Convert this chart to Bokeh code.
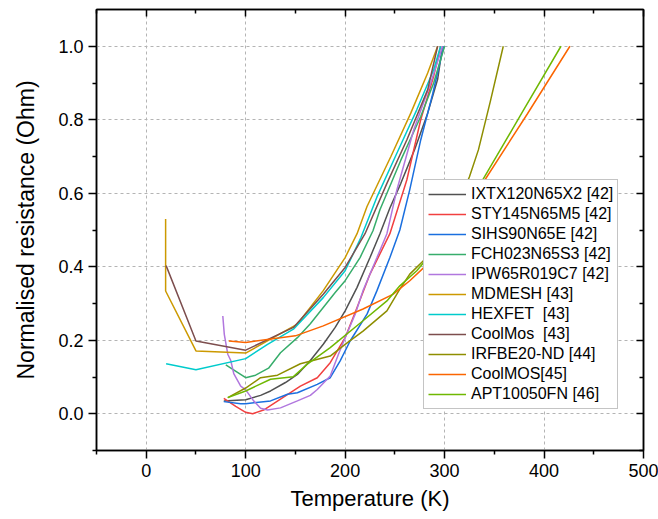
from bokeh.plotting import figure
from bokeh.models import (LinearAxis, FixedTicker, Legend, LegendItem, Range1d,
                          PrintfTickFormatter, CustomJSTickFormatter)
from bokeh.embed import file_html
from bokeh.resources import INLINE

# ---- data ----
names = ["IXTX120N65X2 [42]", "STY145N65M5 [42]", "SIHS90N65E [42]", "FCH023N65S3 [42]",
         "IPW65R019C7 [42]", "MDMESH [43]", "HEXFET  [43]", "CoolMos  [43]",
         "IRFBE20-ND [44]", "CoolMOS[45]", "APT10050FN [46]"]

ixtx_T = [78, 100, 115, 125, 140, 152, 165, 178, 190, 200, 212, 225, 235, 245, 256, 270, 283, 293, 298]
ixtx_R = [0.035, 0.038, 0.050, 0.062, 0.085, 0.107, 0.145, 0.189, 0.235, 0.28, 0.344, 0.425, 0.49, 0.56, 0.627, 0.72, 0.818, 0.91, 1.0]

sty_T = [78, 90, 100, 107, 118, 135, 155, 172, 185, 200, 212, 225, 245, 262, 276, 289, 296]
sty_R = [0.042, 0.02, 0.004, 0.0, 0.010, 0.040, 0.075, 0.098, 0.139, 0.207, 0.289, 0.38, 0.49, 0.636, 0.80, 0.918, 1.0]

sihs_T = [78, 95, 100, 125, 142, 152, 172, 185, 195, 205, 222, 232, 245, 255, 265, 276, 288, 296, 299]
sihs_R = [0.033, 0.027, 0.027, 0.035, 0.053, 0.057, 0.08, 0.098, 0.144, 0.198, 0.271, 0.335, 0.425, 0.50, 0.61, 0.745, 0.87, 0.964, 1.0]

fch_T = [80, 100, 110, 123, 135, 152, 165, 178, 190, 200, 215, 228, 235, 256, 276, 289, 300]
fch_R = [0.133, 0.098, 0.105, 0.124, 0.166, 0.207, 0.245, 0.289, 0.33, 0.362, 0.425, 0.498, 0.555, 0.69, 0.809, 0.9, 1.0]

ipw_T = [77, 78.5, 82, 85, 88, 95, 100, 108, 115, 122, 135, 152, 165, 172, 185, 193, 200, 210, 218, 232, 242, 252, 269, 286, 298]
ipw_R = [0.266, 0.216, 0.162, 0.145, 0.109, 0.075, 0.065, 0.035, 0.015, 0.01, 0.016, 0.035, 0.05, 0.066, 0.103, 0.16, 0.207, 0.27, 0.335, 0.425, 0.49, 0.609, 0.773, 0.9, 1.0]

mdmesh_T = [19.5, 19.5, 50, 100, 152, 178, 200, 212, 222, 246, 266, 283, 293]
mdmesh_R = [0.53, 0.334, 0.171, 0.165, 0.244, 0.335, 0.425, 0.49, 0.564, 0.70, 0.818, 0.927, 1.0]

hexfet_T = [20, 50, 100, 122, 148, 178, 200, 216, 232, 252, 272, 289, 296]
hexfet_R = [0.136, 0.12, 0.15, 0.189, 0.23, 0.316, 0.389, 0.48, 0.59, 0.709, 0.827, 0.936, 1.0]

coolmos43_T = [20, 50, 100, 148, 178, 200, 220, 242, 262, 283, 293]
coolmos43_R = [0.403, 0.198, 0.173, 0.235, 0.325, 0.398, 0.49, 0.627, 0.745, 0.882, 1.0]

irfbe_T = [82, 100, 115, 132, 155, 185, 200, 218, 242, 255, 265, 282, 300, 315, 325, 334, 346, 359]
irfbe_R = [0.044, 0.07, 0.098, 0.105, 0.136, 0.157, 0.189, 0.225, 0.28, 0.339, 0.38, 0.425, 0.50, 0.58, 0.645, 0.718, 0.85, 1.0]

coolmos45_T = [83, 100, 150, 178, 218, 248, 265, 282, 310, 339, 383, 426]
coolmos45_R = [0.198, 0.194, 0.212, 0.239, 0.285, 0.325, 0.362, 0.405, 0.515, 0.63, 0.815, 1.0]

apt_T = [82, 100, 125, 148, 162, 185, 218, 242, 255, 272, 282, 310, 337, 378, 417]
apt_R = [0.044, 0.062, 0.094, 0.101, 0.135, 0.18, 0.253, 0.307, 0.348, 0.389, 0.421, 0.527, 0.63, 0.82, 1.0]

series_T = [ixtx_T, sty_T, sihs_T, fch_T, ipw_T, mdmesh_T, hexfet_T, coolmos43_T, irfbe_T, coolmos45_T, apt_T]
series_R = [ixtx_R, sty_R, sihs_R, fch_R, ipw_R, mdmesh_R, hexfet_R, coolmos43_R, irfbe_R, coolmos45_R, apt_R]

colors = ["#515151", "#F14040", "#1A6FDF", "#37AD6B", "#B177DE", "#CC9900",
          "#00CBCC", "#7D4E4E", "#8E8E00", "#FB6501", "#6FB802"]

x_major = [0, 100, 200, 300, 400, 500]
x_minor = [-50, 50, 150, 250, 350, 450]
y_major = [0.0, 0.2, 0.4, 0.6, 0.8, 1.0]
y_minor = [-0.1, 0.1, 0.3, 0.5, 0.7, 0.9]

FONT = "Liberation Sans"

p = figure(width=658, height=519, x_range=Range1d(-50, 500), y_range=Range1d(-0.1, 1.1),
           output_backend="svg", toolbar_location=None,
           min_border_left=96, min_border_right=15, min_border_top=9, min_border_bottom=69)
p.background_fill_color = "white"
p.border_fill_color = "white"
p.outline_line_color = "black"
p.outline_line_width = 1.5

xt = FixedTicker(ticks=x_major, minor_ticks=x_minor)
yt = FixedTicker(ticks=y_major, minor_ticks=y_minor)

p.xaxis.ticker = xt
p.yaxis.ticker = yt
p.yaxis.formatter = PrintfTickFormatter(format="%.1f")

for ax in (p.xaxis[0], p.yaxis[0]):
    ax.major_tick_out = 8
    ax.major_tick_in = 0
    ax.minor_tick_out = 4
    ax.minor_tick_in = 0
    ax.axis_line_width = 1.5
    ax.major_tick_line_width = 1.5
    ax.minor_tick_line_width = 1.5
    ax.axis_line_color = "black"
    ax.major_tick_line_color = "black"
    ax.minor_tick_line_color = "black"
    ax.major_label_text_font = FONT
    ax.major_label_text_font_size = "18px"
    ax.major_label_text_color = "black"
    ax.major_label_standoff = 5
    ax.axis_label_text_font = FONT
    ax.axis_label_text_font_style = "normal"
    ax.axis_label_text_color = "black"

p.xaxis.axis_label = "Temperature (K)"
p.xaxis.axis_label_text_font_size = "22px"
p.xaxis.axis_label_standoff = 6
p.yaxis.axis_label = "Normalised resistance (Ohm)"
p.yaxis.axis_label_text_font_size = "23px"
p.yaxis.axis_label_standoff = 16

blank = CustomJSTickFormatter(code="return ''")
top = LinearAxis(ticker=xt, formatter=blank, major_tick_in=7, major_tick_out=0,
                 minor_tick_in=4, minor_tick_out=0, major_label_standoff=0,
                 axis_line_width=1.5, major_tick_line_width=1.5, minor_tick_line_width=1.5)
right = LinearAxis(ticker=yt, formatter=blank, major_tick_in=7, major_tick_out=0,
                   minor_tick_in=4, minor_tick_out=0, major_label_standoff=0,
                   axis_line_width=1.5, major_tick_line_width=1.5, minor_tick_line_width=1.5)
p.add_layout(top, "above")
p.add_layout(right, "right")

for g in (p.xgrid[0], p.ygrid[0]):
    g.grid_line_color = "#b4b4b4"
    g.grid_line_dash = "3 3"
    g.grid_line_width = 1
p.xgrid.ticker = xt
p.ygrid.ticker = yt

items = []
for name, T, R, c in zip(names, series_T, series_R, colors):
    r = p.line(T, R, line_color=c, line_width=1.5)
    items.append(LegendItem(label=name, renderers=[r]))

legend = Legend(items=items, location=(327, 41), margin=0, padding=4, spacing=0,
                glyph_width=38, glyph_height=20, label_height=20, label_standoff=5,
                label_text_font=FONT, label_text_font_size="16px", label_text_color="black",
                border_line_color="#8a8a8a", border_line_width=1.5,
                background_fill_color="white", background_fill_alpha=1.0)
p.add_layout(legend)

open("out.html", "w").write(file_html(p, INLINE))
